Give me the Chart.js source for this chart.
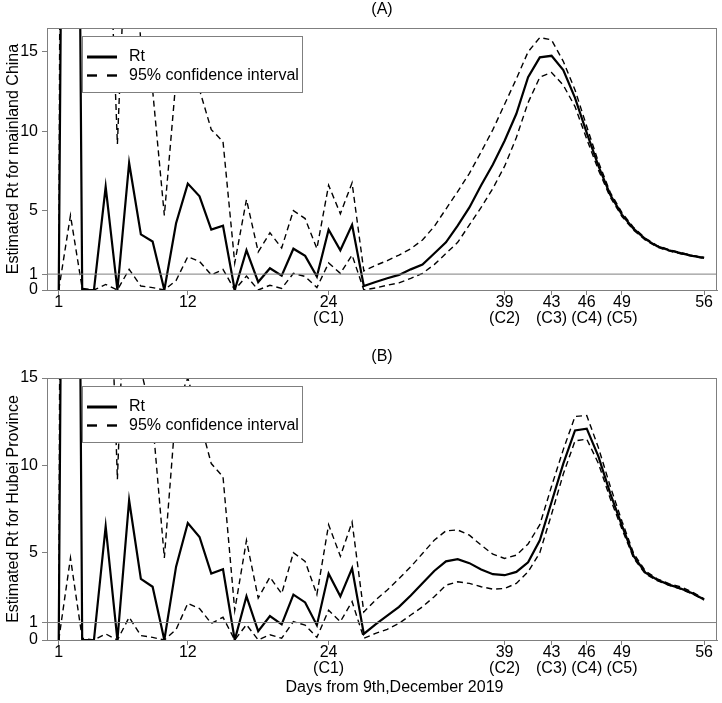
<!DOCTYPE html>
<html><head><meta charset="utf-8">
<script src="https://cdn.jsdelivr.net/npm/chart.js@4/dist/chart.umd.min.js"></script>
<style>
html,body{margin:0;padding:0;background:#fff;}
#wrap{position:relative;width:722px;height:703px;}
canvas{position:absolute;left:0;}
</style></head><body>
<div id="wrap">
<canvas id="cA" width="722" height="330" style="top:0px"></canvas>
<canvas id="cB" width="722" height="373" style="top:330px"></canvas>
</div>
<script>
// ---- data ----
const days = [1,2,3,4,5,6,7,8,9,10,11,12,13,14,15,16,17,18,19,20,21,22,23,24,25,26,27,28,
  29,30,31,32,33,34,35,36,37,38,39,40,41,42,43,44,45,46,47,48,49,50,51,52,53,54,55,56];
const xTickDays = [1,12,24,39,43,46,49,56];
const xTickNotes = ['','','(C1)','(C2)','(C3)','(C4)','(C5)',''];
const yTicks = [0,1,5,10,15];
const refLevel = 1;

// (A) mainland China
const rtA = [0,100,0,0,6.5,0,8.0,3.5,3.05,0,
  4.2,6.7,5.9,3.8,4.05,0,2.5,0.5,1.37,0.9,
  2.6,2.15,0.85,3.8,2.5,4.1,0.25,0.5,0.74,0.95,
  1.3,1.6,2.3,3.0,4.05,5.2,6.6,7.9,9.4,11.1,
  13.4,14.65,14.75,13.85,12.1,9.9,7.8,6.0,4.75,3.85,
  3.2,2.75,2.5,2.32,2.15,2.02];
const upA = [0,200,40,30,29,9.2,27.5,15.5,12.6,4.7,
  13.3,15.0,12.6,10.1,9.35,1.7,5.7,2.4,3.6,2.65,
  5.0,4.5,2.6,6.6,4.8,6.75,1.2,1.55,1.85,2.2,
  2.6,3.15,4.0,5.1,6.2,7.35,8.7,10.1,11.7,13.3,
  15.0,15.9,15.75,14.4,12.6,10.3,8.05,6.15,4.87,3.93,
  3.26,2.8,2.54,2.36,2.18,2.05];
const lowA = [0,4.7,0.1,0,0.35,0,1.3,0.25,0.15,0,
  0.6,2.1,1.8,0.95,1.3,0,0.88,0,0.3,0.1,
  1.05,0.85,0.15,1.7,1.05,2.2,0,0.13,0.3,0.45,
  0.73,1.05,1.6,2.3,3.0,4.1,5.2,6.4,7.8,9.6,
  11.8,13.4,13.7,12.9,11.55,9.5,7.55,5.85,4.63,3.77,
  3.14,2.7,2.46,2.28,2.12,1.99];

// (B) Hubei Province
const rtB = [0,100,0,0,6.5,0,8.0,3.5,3.05,0,
  4.2,6.7,5.9,3.8,4.05,0,2.5,0.5,1.37,0.9,
  2.6,2.15,0.85,3.8,2.5,4.1,0.35,0.9,1.4,1.9,
  2.55,3.25,3.95,4.5,4.63,4.4,4.04,3.77,3.71,3.9,
  4.45,5.71,7.9,10.1,12.0,12.1,10.5,8.4,6.55,4.8,
  3.85,3.45,3.17,2.95,2.68,2.32];
const upB = [0,200,40,30,29,9.2,27.5,15.5,12.6,4.7,
  13.3,15.0,12.6,10.1,9.35,1.7,5.7,2.4,3.6,2.65,
  5.0,4.5,2.6,6.6,4.8,6.75,1.6,2.29,2.86,3.52,
  4.19,4.95,5.71,6.25,6.3,6.0,5.43,4.91,4.67,4.86,
  5.5,6.6,8.8,10.9,12.8,12.85,11.0,8.8,6.8,4.95,
  3.95,3.5,3.23,3.04,2.75,2.36];
const lowB = [0,4.7,0.1,0,0.35,0,1.3,0.25,0.15,0,
  0.6,2.1,1.8,0.95,1.3,0,0.88,0,0.3,0.1,
  1.05,0.85,0.15,1.7,1.05,2.2,0.1,0.38,0.61,0.95,
  1.43,1.9,2.48,3.14,3.33,3.24,3.05,2.91,2.95,3.24,
  3.9,5.0,7.2,9.5,11.4,11.5,10.1,8.1,6.35,4.68,
  3.78,3.4,3.13,2.91,2.64,2.29];

// ---- drawing ----
const FONT = "'Liberation Sans', Arial, Helvetica, sans-serif";
Chart.defaults.font.family = FONT;
const GREY = '#7f7f7f';
const X_MIN = 0, X_MAX = 57.1;

function framePlugin(xTitle) {
  return {
    id: 'frame',
    afterDatasetsDraw(chart) {
      const {ctx, chartArea: {left, top, right, bottom}} = chart;
      ctx.save();
      // legend box
      const lx = 82, ly = Math.round(top) + 8, lw = 220, lh = 56;
      ctx.fillStyle = '#fff';
      ctx.fillRect(lx, ly, lw, lh);
      ctx.strokeStyle = GREY; ctx.lineWidth = 1;
      ctx.strokeRect(lx + 0.5, ly + 0.5, lw, lh);
      ctx.strokeStyle = '#000';
      ctx.lineWidth = 3;
      ctx.beginPath(); ctx.moveTo(87, ly + 21); ctx.lineTo(117, ly + 21); ctx.stroke();
      ctx.lineWidth = 2.4; ctx.setLineDash([10, 10]);
      ctx.beginPath(); ctx.moveTo(87, ly + 39.5); ctx.lineTo(117, ly + 39.5); ctx.stroke();
      ctx.setLineDash([]);
      ctx.fillStyle = '#000';
      ctx.font = '16px ' + FONT;
      ctx.textBaseline = 'middle'; ctx.textAlign = 'left';
      ctx.fillText('Rt', 129, ly + 21);
      ctx.fillText('95% confidence interval', 129, ly + 39.5);
      // plot frame
      ctx.strokeStyle = GREY; ctx.lineWidth = 1;
      ctx.strokeRect(Math.round(left) + 0.5, Math.round(top) + 0.5,
        Math.round(right - left) - 1, Math.round(bottom - top));
      if (xTitle) {
        ctx.textAlign = 'center';
        ctx.fillText(xTitle, 394.5, bottom + 48);
      }
      ctx.restore();
    }
  };
}

function makeChart(id, o) {
  const pts = arr => days.map((d, i) => ({x: d, y: arr[i]}));
  return new Chart(document.getElementById(id), {
    type: 'line',
    data: {
      datasets: [
        {label: 'ref', data: [{x: X_MIN, y: refLevel}, {x: X_MAX, y: refLevel}],
         borderColor: GREY, borderWidth: 1, pointRadius: 0},
        {label: 'Rt', data: pts(o.rt), borderColor: '#000', borderWidth: 2.2,
         pointRadius: 0, tension: 0},
        {label: '95% confidence interval', data: pts(o.up), borderColor: '#000',
         borderWidth: 1.4, borderDash: [6, 4], pointRadius: 0, tension: 0},
        {label: 'lower', data: pts(o.low), borderColor: '#000',
         borderWidth: 1.4, borderDash: [6, 4], pointRadius: 0, tension: 0}
      ]
    },
    options: {
      responsive: false, animation: false, devicePixelRatio: 1,
      layout: {padding: {left: 0, right: 5, top: 0, bottom: 0}},
      plugins: {
        legend: {display: false},
        tooltip: {enabled: false},
        title: {display: true, text: o.title, fullSize: false, color: '#000',
          font: {size: 16, weight: 'normal'},
          padding: {top: o.titleTop, bottom: o.titleBottom}}
      },
      scales: {
        x: {
          type: 'linear', min: X_MIN, max: X_MAX,
          afterBuildTicks: s => { s.ticks = xTickDays.map(v => ({value: v})); },
          afterFit: s => { s.height = o.xH; },
          ticks: {autoSkip: false, maxRotation: 0, color: '#000', padding: 0,
            font: {size: 16, lineHeight: 1},
            callback: v => {
              const i = xTickDays.indexOf(v);
              return (i >= 0 && xTickNotes[i]) ? [String(v), xTickNotes[i]] : String(v);
            }},
          grid: {drawOnChartArea: false, drawTicks: true, tickLength: 5, color: GREY},
          border: {display: true, color: GREY}
        },
        y: {
          min: 0, max: o.ymax,
          afterBuildTicks: s => { s.ticks = yTicks.map(v => ({value: v})); },
          afterFit: s => { s.width = 47; },
          ticks: {color: '#000', padding: 4, font: {size: 16}},
          grid: {drawOnChartArea: false, drawTicks: true, tickLength: 5, color: GREY},
          border: {display: true, color: GREY},
          title: {display: true, text: o.ytitle, color: '#000',
            font: {size: 16}, padding: {top: 4, bottom: 0}}
        }
      }
    },
    plugins: [framePlugin(o.xTitle)]
  });
}

makeChart('cA', {rt: rtA, up: upA, low: lowA, title: '(A)', titleTop: 0, titleBottom: 8.8,
  xH: 40, ymax: 16.5, ytitle: 'Estimated Rt for mainland China', xTitle: null});
makeChart('cB', {rt: rtB, up: upB, low: lowB, title: '(B)', titleTop: 17.4, titleBottom: 11.4,
  xH: 63, ymax: 15, ytitle: 'Estimated Rt for Hubei Province',
  xTitle: 'Days from 9th,December 2019'});
</script>
</body></html>
